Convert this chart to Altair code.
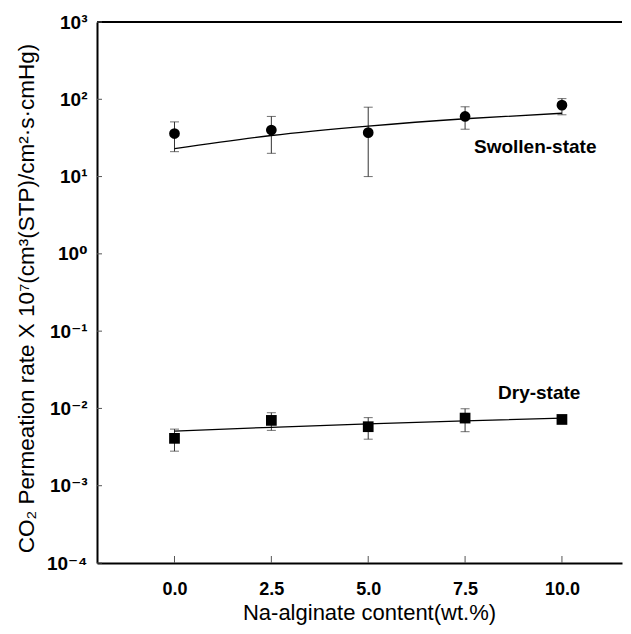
import json
import altair as alt
import pandas as pd

# ---------------- data ----------------
x_content = [0.0, 2.5, 5.0, 7.5, 10.0]

swollen_rate = [36, 40, 37, 60, 84]
swollen_err_hi = [51, 60, 79, 80, 102]
swollen_err_lo = [21, 20, 10, 41, 63]
swollen_fit = [23, 34, 45, 56, 66]

dry_rate = [0.0041, 0.0070, 0.0058, 0.0075, 0.0072]
dry_err_hi = [0.0054, 0.0088, 0.0076, 0.0099, None]
dry_err_lo = [0.0028, 0.0052, 0.0040, 0.0050, None]
dry_fit = [0.0051, 0.0057, 0.0063, 0.0069, 0.0075]

y_decades = [1e-4, 1e-3, 1e-2, 1e-1, 1e0, 1e1, 1e2, 1e3]
y_tick_labels = ["10⁻⁴", "10⁻³", "10⁻²", "10⁻¹", "10⁰", "10¹", "10²", "10³"]
x_ticks = [0.0, 2.5, 5.0, 7.5, 10.0]

state_labels = ["Swollen-state", "Dry-state"]
label_x = [7.73, 8.35]
label_y = [24.2, 0.0159]

# ---------------- tables ----------------
rows = []
for name, r, hi, lo, f in [
    ("Swollen-state", swollen_rate, swollen_err_hi, swollen_err_lo, swollen_fit),
    ("Dry-state", dry_rate, dry_err_hi, dry_err_lo, dry_fit),
]:
    for i, xv in enumerate(x_content):
        rows.append({"series": name, "x": xv, "rate": r[i], "hi": hi[i], "lo": lo[i], "fit": f[i]})
df = pd.DataFrame(rows)
df_err = df.dropna(subset=["hi", "lo"])
df_lab = pd.DataFrame({"text": state_labels, "x": label_x, "y": label_y})
df_xt = pd.DataFrame({"x": x_ticks})
df_yt = pd.DataFrame({"y": y_decades})
df_top = pd.DataFrame({"y": [y_decades[-1]]})

W, H = 525, 541
FONT = "Liberation Sans, Arial, DejaVu Sans"

xscale = alt.Scale(domain=[-2, 11.55], nice=False, zero=False)
yscale = alt.Scale(type="log", domain=[1e-4, 1e3], nice=False)

label_expr = json.dumps(y_tick_labels, ensure_ascii=False) + "[round(log(datum.value)/LN10)+4]"

xaxis = alt.Axis(
    values=x_ticks, format=".1f", title="Na-alginate content(wt.%)",
    ticks=False, tickSize=0, grid=False, labelFlush=False,
    domainColor="black", domainWidth=2,
    labelFont=FONT, labelFontSize=18, labelFontWeight="bold", labelColor="black",
    labelPadding=17,
    titleFont=FONT, titleFontSize=22, titleFontWeight="normal", titleColor="black",
    titleX=272, titleY=49, titleBaseline="middle", titleAlign="center",
)
yaxis = alt.Axis(
    values=y_decades, labelExpr=label_expr,
    title="CO₂ Permeation rate X 10⁷(cm³(STP)/cm²·s·cmHg)",
    ticks=False, tickSize=0, grid=False, labelFlush=False, labelOverlap=False,
    domainColor="black", domainWidth=2,
    labelFont=FONT, labelFontSize=19, labelFontWeight="bold", labelColor="black",
    labelPadding=10,
    titleFont=FONT, titleFontSize=22.5, titleFontWeight="normal", titleColor="black",
    titleX=-71, titleY=276, titleAngle=270, titleBaseline="middle", titleAlign="center",
)


def X(field):
    return alt.X(field, type="quantitative", scale=xscale, axis=xaxis)


def Y(field):
    return alt.Y(field, type="quantitative", scale=yscale, axis=yaxis)


err_color = "#333333"

err_rule = alt.Chart(df_err).mark_rule(color=err_color, strokeWidth=1).encode(
    x=X("x"), y=Y("lo"), y2="hi"
)
cap_hi = alt.Chart(df_err).mark_tick(orient="horizontal", color=err_color, size=9, thickness=1).encode(
    x=X("x"), y=Y("hi")
)
cap_lo = alt.Chart(df_err).mark_tick(orient="horizontal", color=err_color, size=9, thickness=1).encode(
    x=X("x"), y=Y("lo")
)
fit = alt.Chart(df).mark_line(color="black", strokeWidth=1.3, interpolate="monotone").encode(
    x=X("x"), y=Y("fit"), detail="series:N"
)
points = alt.Chart(df).mark_point(filled=True, opacity=1, color="black").encode(
    x=X("x"), y=Y("rate"),
    shape=alt.Shape("series:N", scale=alt.Scale(domain=["Swollen-state", "Dry-state"],
                                                range=["circle", "square"]), legend=None),
    size=alt.Size("series:N", scale=alt.Scale(domain=["Swollen-state", "Dry-state"],
                                              range=[115, 115]), legend=None),
)
labels = alt.Chart(df_lab).mark_text(
    align="left", baseline="middle", font=FONT, fontSize=19, fontWeight="bold", color="black"
).encode(x=X("x"), y=Y("y"), text="text:N")

xticks = alt.Chart(df_xt).mark_rule(color="#555555", strokeWidth=1).encode(
    x=X("x"), y=alt.value(H), y2=alt.value(H - 7)
)
yticks = alt.Chart(df_yt).mark_rule(color="#555555", strokeWidth=1).encode(
    y=Y("y"), x=alt.value(0), x2=alt.value(5)
)
top_line = alt.Chart(df_top).mark_rule(color="black", strokeWidth=2).encode(
    y=Y("y"), x=alt.value(0), x2=alt.value(W)
)

chart = alt.layer(
    top_line, xticks, yticks, err_rule, cap_hi, cap_lo, fit, points, labels
).properties(
    width=W, height=H,
    autosize=alt.AutoSizeParams(type="none"),
    padding={"left": 89, "top": 14, "right": 1, "bottom": 64},
    background="white",
).configure_view(stroke=None)

chart.save("out.html", embed_options={"renderer": "svg", "actions": False})
